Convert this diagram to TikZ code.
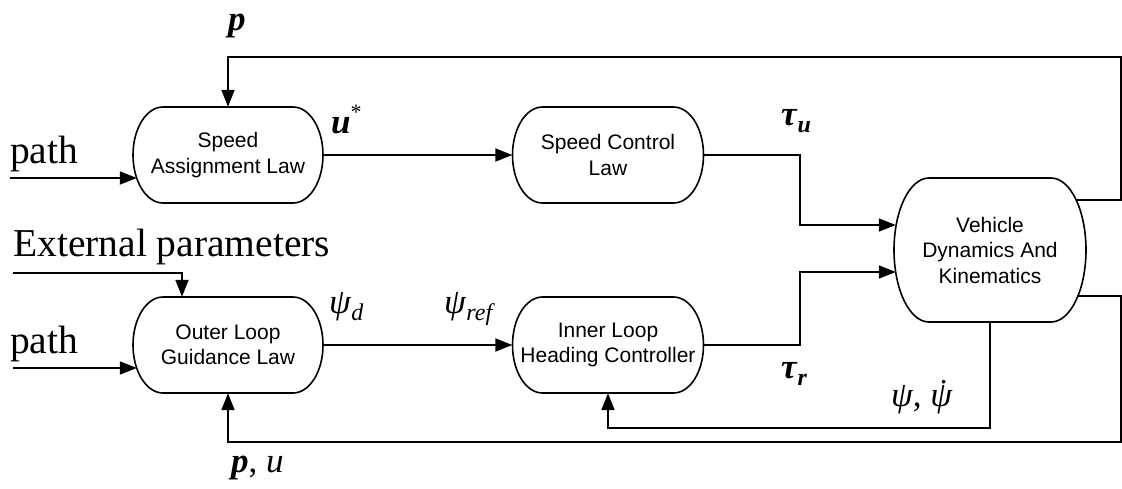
\documentclass[tikz,border=0pt]{standalone}
\usepackage{fontspec}
\setmainfont{Liberation Serif}
\newfontfamily\boxfont{Liberation Sans}
\usetikzlibrary{arrows.meta,calc}
\tikzset{
  boxtext/.style={align=center, font=\boxfont\fontsize{21}{25.5}\selectfont, inner sep=0pt},
  boxline/.style={line width=1.6pt},
  conn/.style={line width=1.8pt},
  arr/.style={conn, -{Triangle[length=17pt,width=13pt]}},
  lbl/.style={inner sep=0pt, anchor=base west, font=\fontsize{35}{38}\selectfont},
  big/.style={inner sep=0pt, anchor=base west, font=\fontsize{39.5}{44}\selectfont},
}
\newcommand\subs[1]{\raisebox{-0.22em}{\fontsize{24}{24}\selectfont #1}}
\newcommand\pillbox[7]{%
  \node[boxtext, minimum width=#4pt, minimum height=#5pt] (#1) at (#2,#3) {#7};
  \pgfmathsetmacro\xa{#2-#4/2}\pgfmathsetmacro\xb{#2+#4/2}%
  \pgfmathsetmacro\ya{#3-#5/2}\pgfmathsetmacro\yb{#3+#5/2}%
  \pgfmathsetmacro\xl{\xa+#6}\pgfmathsetmacro\xr{\xb-#6}%
  \pgfmathsetmacro\kx{0.5523*#6}\pgfmathsetmacro\ky{0.5523*#5/2}%
  \draw[boxline] (\xl,\ya) -- (\xr,\ya)
    .. controls (\xr+\kx,\ya) and (\xb,#3-\ky) .. (\xb,#3)
    .. controls (\xb,#3+\ky) and (\xr+\kx,\yb) .. (\xr,\yb)
    -- (\xl,\yb)
    .. controls (\xl-\kx,\yb) and (\xa,#3+\ky) .. (\xa,#3)
    .. controls (\xa,#3-\ky) and (\xl-\kx,\ya) .. cycle;
}
\begin{document}
\begin{tikzpicture}[x=1pt,y=-1pt]
\useasboundingbox (0,0) rectangle (1122,488);
% boxes
\pillbox{SAL}{228}{155}{190}{96}{30}{Speed\\Assignment Law}
\pillbox{SCL}{608}{155}{191}{96}{30}{Speed Control\\Law}
\pillbox{OL}{228}{345}{190}{96}{30}{Outer Loop\\Guidance Law}
\pillbox{IL}{608}{345}{191}{96}{30}{Inner Loop\\Heading Controller}
\pillbox{V}{990}{250}{192}{144}{35}{Vehicle\\Dynamics And\\Kinematics}
% free ends and corners
\coordinate (pin1) at (10,178);
\coordinate (pin2) at (13,368);
\coordinate (ext) at (13,273);
\coordinate (ju) at (800,225);
\coordinate (jr) at (800,272);
\coordinate (tr1) at (1121,200);
\coordinate (tr2) at (1121,57);
\coordinate (br1) at (1121,296);
\coordinate (br2) at (1121,442);
\coordinate (bm) at (990,428);
% connectors
\draw[arr] (pin1) -- ([xshift=4pt,yshift=-23pt]SAL.west);
\draw[arr] (SAL.east) -- (SCL.west);
\draw[arr] (SCL.east) -| (ju) -- ([xshift=2pt,yshift=25pt]V.west);
\draw[arr] (pin2) -- ([xshift=4pt,yshift=-23pt]OL.west);
\draw[arr] (ext) -| ([xshift=-46pt]OL.north);
\draw[arr] (OL.east) -- (IL.west);
\draw[arr] (IL.east) -| (jr) -- ([xshift=2pt,yshift=-22pt]V.west);
\draw[arr] ([xshift=-10pt,yshift=50pt]V.east) -- (tr1) -- (tr2) -| (SAL.north);
\draw[arr] ([xshift=-9pt,yshift=-46pt]V.east) -- (br1) -- (br2) -| (OL.south);
\draw[arr] (V.south) -- (bm) -| (IL.south);
% labels
\node[big] (tpath1) at (10,163) {path};
\node[big] (tpath2) at (10,353) {path};
\node[big] (text) at (13,256) {External parameters};
\node[lbl] (lp) at (228,30) {\textbf{\textit{p}}};
\node[lbl] (lus) at (331,133) {\textbf{\textit{u}}\raisebox{0.38em}{\fontsize{22}{22}\selectfont *}};
\node[lbl] (ltu) at (781,125) {\textbf{\textit{τ}}\subs{\textbf{\textit{u}}}};
\node[lbl] (ltr) at (781,378) {\textbf{\textit{τ}}\subs{\textbf{\textit{r}}}};
\node[lbl] (lpd) at (329,313) {\textit{ψ}\subs{\textit{d}}};
\node[lbl] (lpr) at (444,313) {\textit{ψ}\subs{\textit{ref}}};
\node[lbl] (lpp) at (891,406) {\textit{ψ}, \textit{ψ}\kern-0.42em\raisebox{0.08em}{˙}\kern0.2em};
\node[lbl] (lpu) at (231,472) {\textbf{\textit{p}}, \textit{u}};
\end{tikzpicture}
\end{document}
